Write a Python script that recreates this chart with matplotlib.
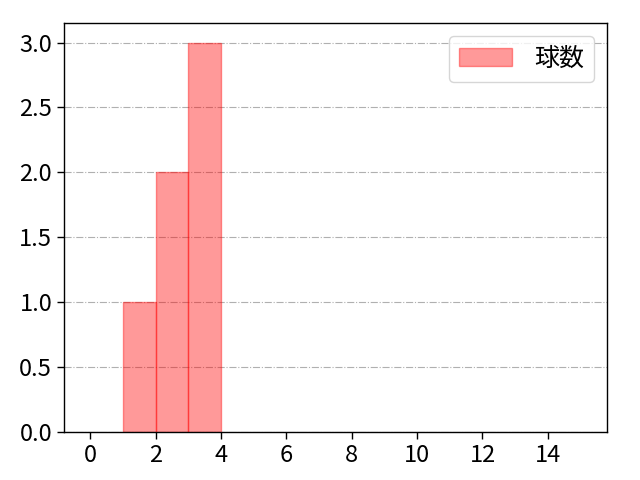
import matplotlib
matplotlib.use("Agg")
import matplotlib.pyplot as plt

plt.rcParams['font.family'] = ['Noto Sans CJK JP', 'DejaVu Sans']

bin_edges = [1, 2, 3, 4]
counts = [1, 2, 3]
label = "球数"

fig = plt.figure(figsize=(6.4, 4.8), dpi=100)
ax = fig.add_axes([0.1, 0.1, 0.848, 0.852])
ax.hist(bin_edges[:-1], bins=bin_edges, weights=counts, color='red', alpha=0.4,
        edgecolor='red', linewidth=1, label=label)
ax.set_xlim(-0.8, 15.8)
ax.set_ylim(0, 3.15)
ax.set_xticks(range(0, 15, 2))
ax.set_yticks([0.0, 0.5, 1.0, 1.5, 2.0, 2.5, 3.0])
ax.yaxis.grid(True, linestyle='-.', color='#b0b0b0', linewidth=0.8)
ax.set_axisbelow(True)
for s in ax.spines.values():
    s.set_linewidth(1.0)
ax.tick_params(labelsize=17, length=5, width=1.0)
ax.legend(loc='upper right', fontsize=18, handlelength=2.1, handletextpad=0.9)
fig.savefig("out.png", dpi=100)
